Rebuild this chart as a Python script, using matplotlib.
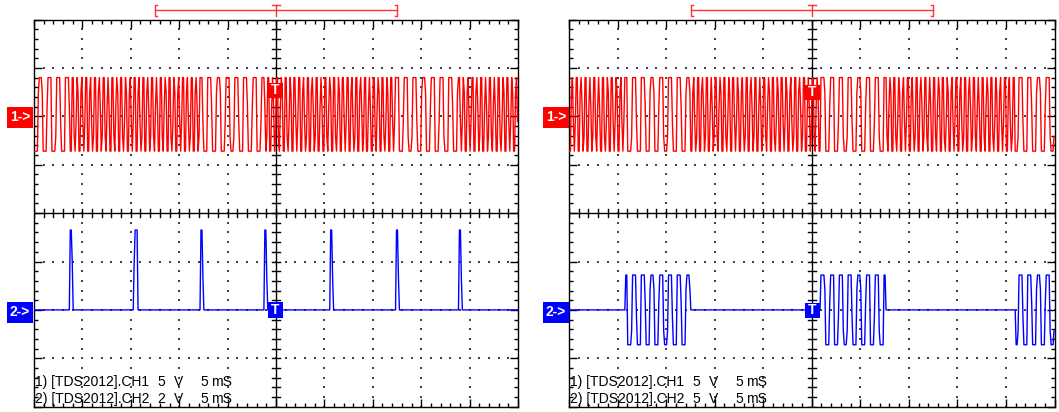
import numpy as np
import matplotlib.pyplot as plt
from matplotlib.patches import Rectangle

W, H = 1059, 412

# ---- values read from the two scope captures ----
screen_ms = 50.0
trigger_ms = 25.0
mark_khz = 1.08      # clean square-wave tone
space_khz = 2.2      # dense tone

left_bit_edges_ms = [0.0, 3.7, 17.2, 23.8, 37.3, 43.9, 50.0]
left_bit_tones = ["mark", "space", "mark", "space", "mark", "space"]
right_bit_edges_ms = [0.0, 5.8, 12.5, 25.9, 32.6, 46.0, 50.0]
right_bit_tones = ["space", "mark", "space", "mark", "space", "mark"]

ch1_high_v = 4.0
ch1_low_v = -3.6
ch2_volts_div = [2, 5]

ch2_left_pulse_ms = [3.7, 10.35, 17.2, 23.8, 30.6, 37.4, 43.9]
ch2_left_pulse_width_ms = [0.25, 0.35, 0.25, 0.25, 0.25, 0.25, 0.25]
ch2_left_pulse_v = 3.3
ch2_right_burst_v = 3.6

label_rows = [
    ["1) [TDS2012].CH1", "5", "V", "5", "mS"],
    ["2) [TDS2012].CH2", "2", "V", "5", "mS"],
]
label_rows_right = [
    ["1) [TDS2012].CH1", "5", "V", "5", "mS"],
    ["2) [TDS2012].CH2", "5", "V", "5", "mS"],
]

RED = "#ff0000"
BLUE = "#0000ff"


def fx(x):
    return x / W


def fy(y):
    return 1 - y / H


def fsk(edges, tones, t):
    idx = np.clip(np.searchsorted(edges, t, side="right") - 1, 0, len(tones) - 1)
    is_mark = np.array([tones[i] == "mark" for i in idx])
    freq = np.where(is_mark, mark_khz, space_khz)
    dt = t[1] - t[0]
    phase = 2 * np.pi * np.cumsum(freq * dt)
    trig = np.argmin(np.abs(t - trigger_ms))
    phase = phase - phase[trig]
    high = np.sin(phase) >= 0
    return high, is_mark


def decimate(a, n=5):
    return a.reshape(-1, n).mean(axis=1)


t_hi = np.arange(2500) * 0.02 + 0.01
t_disp = decimate(t_hi)


def draw_screen(ax, x0px, edges, tones, ch2_kind, rows, ch2_vdiv):
    ax.set_xlim(0, screen_ms)
    ax.set_ylim(-4, 4)
    ax.set_xticks(np.arange(0, 51, 5))
    ax.set_xticks(np.arange(0, 50.01, 1), minor=True)
    ax.set_yticks(np.arange(-4, 4.01, 1))
    ax.set_yticks(np.arange(-4, 4.01, 0.2), minor=True)
    ax.tick_params(which="both", direction="in", top=True, right=True,
                   labelbottom=False, labelleft=False, color="black", width=1)
    ax.tick_params(which="major", length=6)
    ax.tick_params(which="minor", length=3)
    for s in ax.spines.values():
        s.set_linewidth(1.0)

    # dotted graticule
    gx, gy = [], []
    for xv in range(5, 50, 5):
        if xv == 25:
            continue
        ys = np.arange(-4, 4.01, 0.2)
        gx += [xv] * len(ys)
        gy += list(ys)
    for yv in range(-3, 4):
        if yv == 0:
            continue
        xs = np.arange(0, 50.01, 1)
        gx += list(xs)
        gy += [yv] * len(xs)
    ax.scatter(gx, gy, s=0.8, marker="s", color="#444444", linewidths=0, zorder=1)

    # centre cross with ticks
    ax.axhline(0, color="black", lw=1.0, zorder=1.5)
    ax.axvline(25, color="black", lw=1.0, zorder=1.5)
    for xv in np.arange(0, 50.01, 1):
        ax.plot([xv, xv], [-0.08, 0.08], color="black", lw=1.0, zorder=1.5)
    for yv in np.arange(-4, 4.01, 0.2):
        ax.plot([24.6, 25.4], [yv, yv], color="black", lw=1.0, zorder=1.5)

    # channel 1
    high, is_mark = fsk(edges, tones, t_hi)
    ch1_v = np.where(high, ch1_high_v, ch1_low_v)
    ax.plot(t_disp, 2 + decimate(ch1_v) / 5, color=RED, lw=1.0, zorder=3)

    # channel 2
    if ch2_kind == "pulses":
        ch2_v = np.zeros_like(t_hi)
        for p, w in zip(ch2_left_pulse_ms, ch2_left_pulse_width_ms):
            ch2_v[(t_hi >= p) & (t_hi < p + w)] = ch2_left_pulse_v
    else:
        ch2_v = np.where(is_mark, np.where(high, ch2_right_burst_v, -ch2_right_burst_v), 0.0)
    ax.plot(t_disp, -2 + decimate(ch2_v) / ch2_vdiv, color=BLUE, lw=1.0, zorder=3)

    # bottom readout
    offs = [0, 122, 139, 165, 176]
    for row, ypx in zip(rows, [382, 399]):
        for s, o in zip(row, offs):
            ax.text(fx(x0px + 1 + o), fy(ypx), s, transform=plt.gcf().transFigure,
                    fontsize=10, family="Liberation Sans", va="center", ha="left",
                    zorder=2)

    ax.set_facecolor("white")


fig = plt.figure(figsize=(W / 100, H / 100), dpi=100)
top_px, bot_px = 19.5, 406.7
ax1 = fig.add_axes([fx(34), fy(bot_px), fx(518 - 34), (bot_px - top_px) / H])
ax2 = fig.add_axes([fx(569), fy(bot_px), fx(1054.5 - 569), (bot_px - top_px) / H])
draw_screen(ax1, 34, left_bit_edges_ms, left_bit_tones, "pulses", label_rows, ch2_volts_div[0])
draw_screen(ax2, 569, right_bit_edges_ms, right_bit_tones, "bursts", label_rows_right, ch2_volts_div[1])


def tag(x0, y0, x1, y1, color, text):
    fig.add_artist(Rectangle((fx(x0), fy(y1)), fx(x1 - x0), (y1 - y0) / H,
                             transform=fig.transFigure, facecolor=color,
                             edgecolor="none", zorder=10))
    fig.text(fx((x0 + x1) / 2), fy((y0 + y1) / 2), text, color="white",
             fontsize=10, fontweight="bold", family="Liberation Sans",
             ha="center", va="center", zorder=11)


for xl in (7, 543):
    tag(xl, 106.7, xl + 26, 127.7, RED, "1->")
    tag(xl, 302, xl + 26, 323, BLUE, "2->")
tag(267.5, 82.7, 283, 97.7, RED, "T")
tag(268, 302, 283, 317.5, BLUE, "T")
tag(805, 85, 820, 100, RED, "T")
tag(805, 303, 820, 318, BLUE, "T")


def bracket(xa, xt, xb):
    c = "#ff3333"
    kw = dict(transform=fig.transFigure, color=c, lw=1.0, zorder=10)
    fig.add_artist(plt.Line2D([fx(xa), fx(xb)], [fy(10.3), fy(10.3)], **kw))
    fig.add_artist(plt.Line2D([fx(xa + 2), fx(xa), fx(xa), fx(xa + 2)],
                              [fy(5), fy(5), fy(16), fy(16)], **kw))
    fig.add_artist(plt.Line2D([fx(xb - 2), fx(xb), fx(xb), fx(xb - 2)],
                              [fy(5), fy(5), fy(16), fy(16)], **kw))
    fig.add_artist(plt.Line2D([fx(xt - 4), fx(xt + 4)], [fy(5), fy(5)], **kw))
    fig.add_artist(plt.Line2D([fx(xt), fx(xt)], [fy(5), fy(16)], **kw))


bracket(155, 276, 397)
bracket(691, 812, 933)

fig.savefig("out.png", dpi=100)
